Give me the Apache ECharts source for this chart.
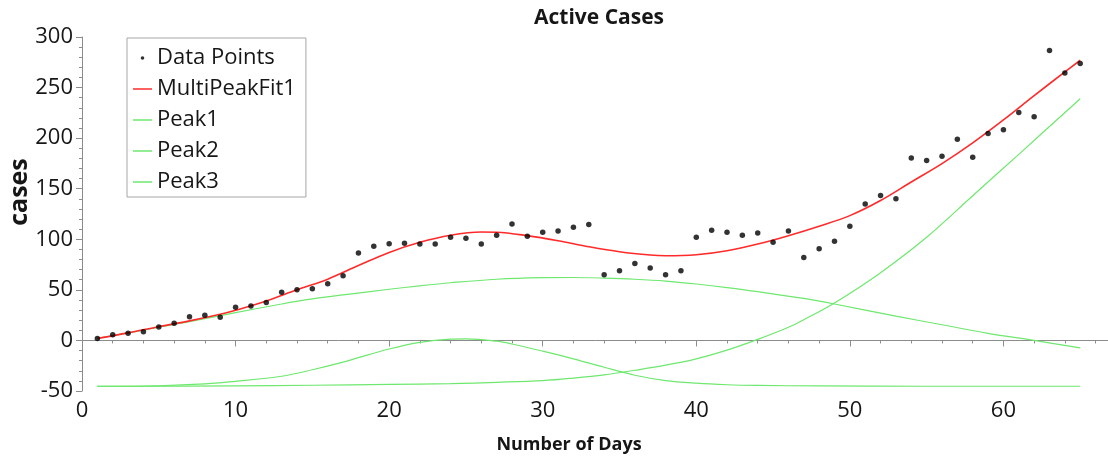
<!DOCTYPE html>
<html><head><meta charset="utf-8">
<script src="https://cdn.jsdelivr.net/npm/echarts@6/dist/echarts.min.js"></script>
<style>html,body{margin:0;padding:0;background:#fff}#c{width:1108px;height:461px}</style>
</head><body><div id="c"></div>
<script>
// ---- data ----
const days = [1,2,3,4,5,6,7,8,9,10,11,12,13,14,15,16,17,18,19,20,21,22,23,24,25,26,27,28,29,30,31,32,33,34,35,36,37,38,39,40,41,42,43,44,45,46,47,48,49,50,51,52,53,54,55,56,57,58,59,60,61,62,63,64,65];
const cases = [2,5.6,7,8.6,13.2,17,23.5,24.8,22.8,32.8,34,37.4,47.6,50,51,56,64,86.4,93,95.6,96,95.3,95.3,102,101,95.3,104,115.2,103,107,108.2,112,114.5,64.9,68.8,76.1,71.5,64.9,68.8,102,108.9,107,104,106.3,97,108.2,82.1,90.7,98,112.9,135,143.3,140,180.4,177.8,182,199,181,204.6,208.2,225.4,221.1,286.7,264.5,273.8];

const fitDays = [1,3,5,7,9,10,12,14,16,18,20,22,24,26,27,29,31,33,35,37,38,40,42,44,46,48,50,52,54,56,58,60,62,64,65];
const fitValues = [2,7.5,13.6,19.3,25.8,29.8,39,50,60.6,74,87,97,104,107.2,107,103.6,98.6,92.7,87.7,84.4,83.7,84.7,88.7,95.3,103.6,113,123.4,138.3,156.6,174.8,195.3,218,242,265.5,277];

const peak1Days = [1,3,5,7,10,13,15,17,20,22,24,27,30,32,34,36,38,40,42,44,47,49,53,56,59,62,65];
const peak1Values = [2,7.5,13,18.5,27.5,36,41,45,50.6,54,57,60.5,62,62.2,61.6,60.5,58.7,55.8,52.3,48.2,41.5,36,24,15.5,7,0,-7.3];

const peak2Days = [1,5,8,10,13,15,17,18,20,22,24,25,27,28,30,32,34,36,38,40,42,44,48,55,65];
const peak2Values = [-45.4,-44.8,-43,-40.5,-35.4,-29,-21.5,-17,-8.5,-2,1.2,1.5,-0.7,-3.5,-10.6,-18.2,-26.5,-34.4,-39.7,-42.3,-43.8,-44.5,-45,-45.3,-45.3];

const peak3Days = [1,10,15,20,24,27,30,32,34,36,38,40,42,44,46,47,49,52,55,58,61,65];
const peak3Values = [-45.5,-45,-44.3,-43.5,-42.7,-41.4,-39.7,-37.2,-34,-29.5,-24.5,-18.2,-9.6,1,13,20.5,37,67,102,143,184,239];

const seriesNames = ['Data Points','MultiPeakFit1','Peak1','Peak2','Peak3'];
const titleText = 'Active Cases';
const xTitle = 'Number of Days';
const yTitle = 'cases';

// ---- chart ----
const pair = (xs, ys) => xs.map((x, i) => [x, ys[i]]);
const AXIS = '#8c8c8c';
const TXT = '#161616';
const RED = '#ff2b2b';
const GREEN = '#6ee86e';
const svgIcon = body => 'image://data:image/svg+xml;utf8,' + encodeURIComponent(
  '<svg xmlns="http://www.w3.org/2000/svg" width="19" height="10">' + body + '</svg>');
const dotIcon = svgIcon('<circle cx="9.5" cy="5" r="1.8" fill="black"/>');
const lineIcon = c => svgIcon('<line x1="0" y1="5" x2="19" y2="5" stroke="' + c + '" stroke-width="1.5"/>');

const chart = echarts.init(document.getElementById('c'), null, {renderer: 'canvas'});
const axisCommon = {
  axisLine: {show: true, lineStyle: {color: AXIS, width: 1}},
  axisTick: {show: true, length: 6, lineStyle: {color: AXIS}},
  minorTick: {show: true, splitNumber: 5, length: 3, lineStyle: {color: AXIS}},
  splitLine: {show: false},
  minorSplitLine: {show: false}
};
chart.setOption({
  animation: false,
  backgroundColor: '#fff',
  title: {
    text: titleText, left: 599, top: 8, textAlign: 'center', padding: 0,
    textStyle: {fontFamily: 'Open Sans', fontWeight: 'bold', fontSize: 21, color: TXT}
  },
  grid: {left: 82, top: 37, width: 1075, bottom: 70, containLabel: false, outerBoundsMode: 'none'},
  xAxis: Object.assign({
    type: 'value', min: 0, max: 70, interval: 10, offset: 3,
    axisLabel: {fontFamily: 'Open Sans', fontSize: 22, color: TXT, margin: 6, showMaxLabel: false}
  }, axisCommon),
  yAxis: Object.assign({
    type: 'value', min: -50, max: 300, interval: 50,
    axisLabel: {fontFamily: 'Open Sans', fontSize: 22, color: TXT, margin: 9}
  }, axisCommon),
  legend: {
    orient: 'vertical', left: 127, top: 38, padding: [9, 10, 4, 6], itemGap: 9,
    itemWidth: 19, itemHeight: 10,
    backgroundColor: '#fff', borderColor: '#a6a6a6', borderWidth: 1, borderRadius: 0,
    textStyle: {fontFamily: 'Open Sans', fontSize: 22, color: TXT},
    data: [
      {name: seriesNames[0], icon: dotIcon},
      {name: seriesNames[1], icon: lineIcon(RED)},
      {name: seriesNames[2], icon: lineIcon(GREEN)},
      {name: seriesNames[3], icon: lineIcon(GREEN)},
      {name: seriesNames[4], icon: lineIcon(GREEN)}
    ]
  },
  graphic: [
    {type: 'text', x: 20, y: 192, rotation: Math.PI / 2,
     style: {text: yTitle, font: 'bold 25px "Open Sans"', fill: TXT, align: 'center', verticalAlign: 'middle'}},
    {type: 'text', x: 569, y: 445,
     style: {text: xTitle, font: 'bold 18px "Open Sans"', fill: TXT, align: 'center', verticalAlign: 'middle'}}
  ],
  series: [
    {name: seriesNames[0], type: 'scatter', data: pair(days, cases), symbolSize: 5.5,
     itemStyle: {color: '#000'}, z: 6},
    {name: seriesNames[1], type: 'line', data: pair(fitDays, fitValues), smooth: 0.35, symbol: 'none',
     lineStyle: {color: RED, width: 1.6}, itemStyle: {color: RED}, z: 5},
    {name: seriesNames[2], type: 'line', data: pair(peak1Days, peak1Values), smooth: 0.35, symbol: 'none',
     lineStyle: {color: GREEN, width: 1.2}, itemStyle: {color: GREEN}, z: 4},
    {name: seriesNames[3], type: 'line', data: pair(peak2Days, peak2Values), smooth: 0.35, symbol: 'none',
     lineStyle: {color: GREEN, width: 1.2}, itemStyle: {color: GREEN}, z: 4},
    {name: seriesNames[4], type: 'line', data: pair(peak3Days, peak3Values), smooth: 0.35, symbol: 'none',
     lineStyle: {color: GREEN, width: 1.2}, itemStyle: {color: GREEN}, z: 4}
  ]
});
</script></body></html>
